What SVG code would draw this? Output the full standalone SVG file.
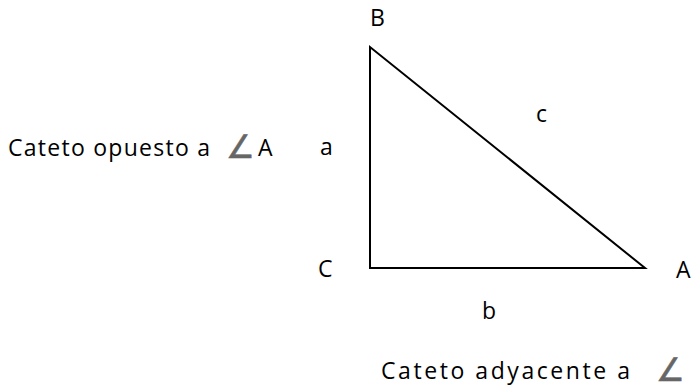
<svg xmlns="http://www.w3.org/2000/svg" width="696" height="391" viewBox="0 0 696 391">
<style>
text{font-family:"Open Sans","Liberation Sans",sans-serif;font-size:23px;fill:#000}
.ang{fill:#666;font-size:32px;stroke:#666;stroke-width:0.6}
</style>
<rect width="696" height="391" fill="#fff"/>
<g id="connectors">
<polygon points="370,47 370,268 645,268" fill="none" stroke="#000" stroke-width="2"/>
</g>
<g id="B"><text x="370" y="26">B</text></g>
<g id="C"><text x="318" y="277">C</text></g>
<g id="A"><text x="676" y="278">A</text></g>
<g id="a"><text x="320" y="155">a</text></g>
<g id="b"><text x="482" y="319">b</text></g>
<g id="c"><text x="536" y="122">c</text></g>
<g id="opuesto"><text x="8" y="156" textLength="202" lengthAdjust="spacing">Cateto opuesto a</text><text class="ang" x="226" y="158">∠</text><text x="258" y="156">A</text></g>
<g id="adyacente"><text x="381" y="379" textLength="249" lengthAdjust="spacing">Cateto  adyacente  a</text><text class="ang" x="656" y="381">∠</text></g>
</svg>
